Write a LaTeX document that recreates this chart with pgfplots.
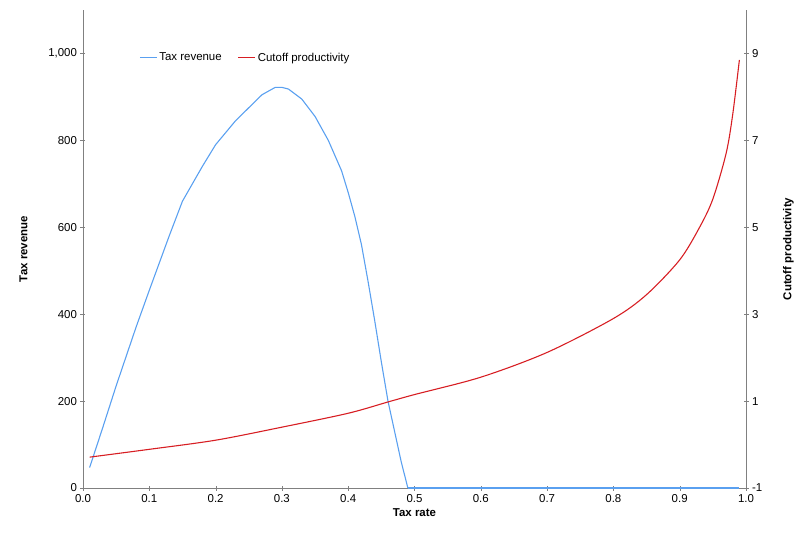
\documentclass[border=0pt]{standalone}
\usepackage{pgfplots}
\pgfplotsset{compat=1.18}
\usepackage{fontspec}
\setmainfont{Liberation Sans}
\definecolor{rev}{RGB}{90,160,240}
\definecolor{cut}{RGB}{215,30,35}
\begin{document}
\begin{tikzpicture}
\path[use as bounding box] (-83bp,-58bp) rectangle (715bp,488bp);
\begin{axis}[scale only axis, width=663bp, height=478bp, at={(0,0)}, anchor=south west,
  xmin=0, xmax=1, ymin=0, ymax=1100,
  axis y line*=left, axis x line*=bottom, axis line style={-,gray},
  xtick={0,0.1,...,1}, ytick={0,200,...,1000},
  tick style={gray}, tick align=center, major tick length=5bp,
  xticklabel style={/pgf/number format/.cd,fixed,fixed zerofill,precision=1},
  yticklabel style={/pgf/number format/.cd,1000 sep={,}},
  /pgf/number format/assume math mode=true,
  ticklabel style={font=\fontsize{11.5}{13}\selectfont},
  xlabel={\textbf{Tax rate}}, ylabel={\textbf{Tax revenue}},
  ylabel style={yshift=14bp},
  label style={font=\fontsize{11.5}{13}\selectfont},
  legend style={draw=none, fill=none, at={(0.08,0.9)}, anchor=west, legend columns=2, font=\fontsize{11.5}{13}\selectfont, /tikz/every even column/.append style={column sep=14bp}}]
\addplot[color=rev, line width=1.1pt] coordinates {(0.01,47)(0.03,140)(0.05,235)(0.08,370)(0.1,455)(0.13,580)(0.15,660)(0.18,740)(0.2,790)(0.23,845)(0.25,875)(0.27,905)(0.29,922)(0.3,922)(0.31,918)(0.33,895)(0.35,855)(0.37,800)(0.39,730)(0.4,680)(0.41,625)(0.42,560)(0.43,475)(0.44,385)(0.45,290)(0.46,200)(0.47,130)(0.48,60)(0.49,0)};
\addlegendentry{Tax revenue}
\addplot[color=cut, line width=1.1pt, smooth] table[x=x, y expr=(\thisrow{y}+1)*100] {
x y
0.01 -0.29
0.1 -0.11
0.2 0.1
0.3 0.4
0.4 0.72
0.46 0.98
0.5 1.15
0.6 1.55
0.7 2.12
0.8 2.9
0.85 3.45
0.9 4.25
0.93 5.0
0.95 5.65
0.97 6.7
0.98 7.6
0.99 8.85
};
\addlegendentry{Cutoff productivity}
\addplot[color=rev, line width=1.1pt, forget plot] coordinates {(0.49,0)(0.99,0)};
\end{axis}
\begin{axis}[scale only axis, width=663bp, height=478bp, at={(0,0)}, anchor=south west,
  xmin=0, xmax=1, ymin=-1, ymax=10,
  axis y line*=right, axis x line=none, axis line style={-,gray},
  ytick={-1,1,...,9}, tick style={gray}, tick align=center, major tick length=5bp,
  /pgf/number format/assume math mode=true,
  ticklabel style={font=\fontsize{11.5}{13}\selectfont},
  ylabel={\textbf{Cutoff productivity}}, ylabel style={yshift=-14bp}, label style={font=\fontsize{11.5}{13}\selectfont}]
\addplot[draw=none] coordinates {(0,0)(1,0)};
\end{axis}
\end{tikzpicture}
\end{document}
